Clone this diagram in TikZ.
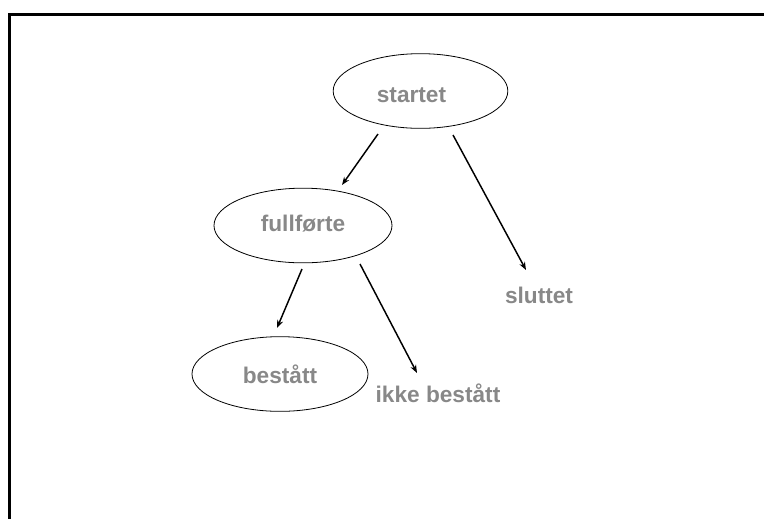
\documentclass[tikz,border=0pt]{standalone}
\usepackage{fontspec}
\setmainfont{Liberation Sans}
\usetikzlibrary{shapes.geometric,arrows.meta,calc}
\definecolor{txtgray}{HTML}{888888}
\begin{document}
\begin{tikzpicture}[x=0.75pt,y=-0.75pt,
  lbl/.style={font=\bfseries\fontsize{17}{20}\selectfont,text=txtgray,inner sep=0pt},
  ell/.style={lbl,draw=black,ellipse,line width=0.6pt,minimum height=56pt},
  arr/.style={-{Stealth[length=6pt,width=4.5pt]},line width=1.1pt},
  frameline/.style={line width=2.25pt,line join=miter}]
\useasboundingbox (0,0) rectangle (764,519);
\draw[frameline] (764,14.5) -- (9.5,14.5) -- (9.5,519);
\node[ell,minimum width=131pt] (startet) at (420.5,91) {\hspace*{-13.5pt}\raisebox{-3pt}[\height][\depth]{startet}};
\node[ell,minimum width=133.5pt] (fullforte) at (303,225.5) {\raisebox{1.2pt}[\height][\depth]{fullførte}};
\node[ell,minimum width=132pt] (bestatt) at (280,374) {bestått};
\node[lbl] (sluttet) at (539,295) {sluttet};
\node[lbl] (ikke) at (438,393) {ikke bestått};
\draw[arr] ($(startet)+(-42.5,43)$) -- ($(fullforte)+(39,-40.5)$);
\draw[arr] ($(startet)+(32.5,44)$) -- ($(sluttet)+(-13,-25)$);
\draw[arr] ($(fullforte)+(-1,43.5)$) -- ($(bestatt)+(-3,-46)$);
\draw[arr] ($(fullforte)+(57,38.5)$) -- ($(ikke)+(-21,-20)$);
\end{tikzpicture}
\end{document}
